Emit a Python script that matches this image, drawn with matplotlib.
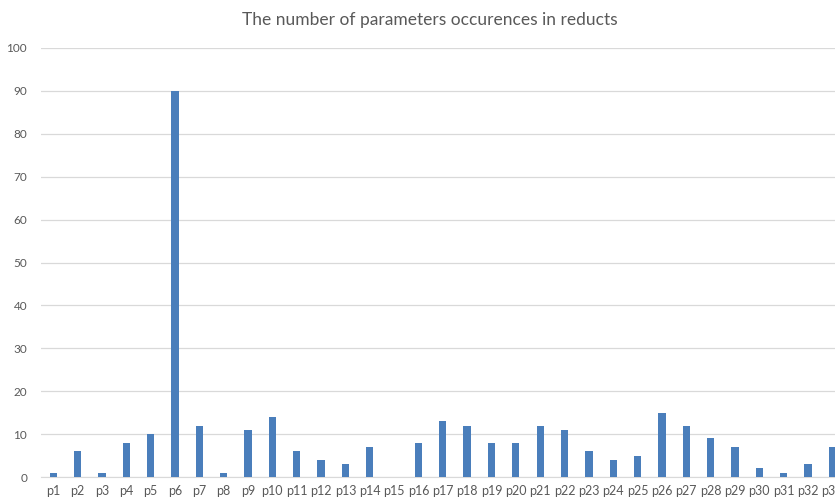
import matplotlib
matplotlib.use("Agg")
import matplotlib.pyplot as plt

categories = [f"p{i}" for i in range(1, 34)]
values = [1, 6, 1, 8, 10, 90, 12, 1, 11, 14, 6, 4, 3, 7, 0, 8, 13, 12, 8, 8,
          12, 11, 6, 4, 5, 15, 12, 9, 7, 2, 1, 3, 7]
yticks = list(range(0, 101, 10))
title = "The number of parameters occurences in reducts"

plt.rcParams['font.family'] = ['Lato', 'DejaVu Sans']
W, H = 835, 500
fig = plt.figure(figsize=(W / 100, H / 100), dpi=100)
left = 41 / W
width = (33 * 24.35) / W
bottom = (H - 477) / H
top = (H - 48) / H
ax = fig.add_axes([left, bottom, width, top - bottom])

x = list(range(len(categories)))
ax.bar(x, values, width=0.3, color="#4a7ebb", zorder=3)
ax.set_xlim(-0.5, len(categories) - 0.5)
ax.set_ylim(0, 100)
ax.set_yticks(yticks)
ax.set_yticklabels([str(t) for t in yticks], fontsize=8.5, color="#595959")
ax.set_xticks(x)
ax.set_xticklabels(categories, fontsize=9, color="#595959")
ax.yaxis.grid(True, color="#d9d9d9", linewidth=0.9, zorder=0)
ax.tick_params(axis="both", length=0)
ax.tick_params(axis="y", pad=10)
ax.tick_params(axis="x", pad=6)
for s in ["top", "right", "left"]:
    ax.spines[s].set_visible(False)
ax.spines["bottom"].set_color("#d9d9d9")
for lbl in ax.get_yticklabels():
    lbl.set_horizontalalignment("right")

fig.text(430 / W, 1 - 20 / H, title, ha="center", va="center", fontsize=12.5, color="#595959")
fig.savefig("out.png", dpi=100)
